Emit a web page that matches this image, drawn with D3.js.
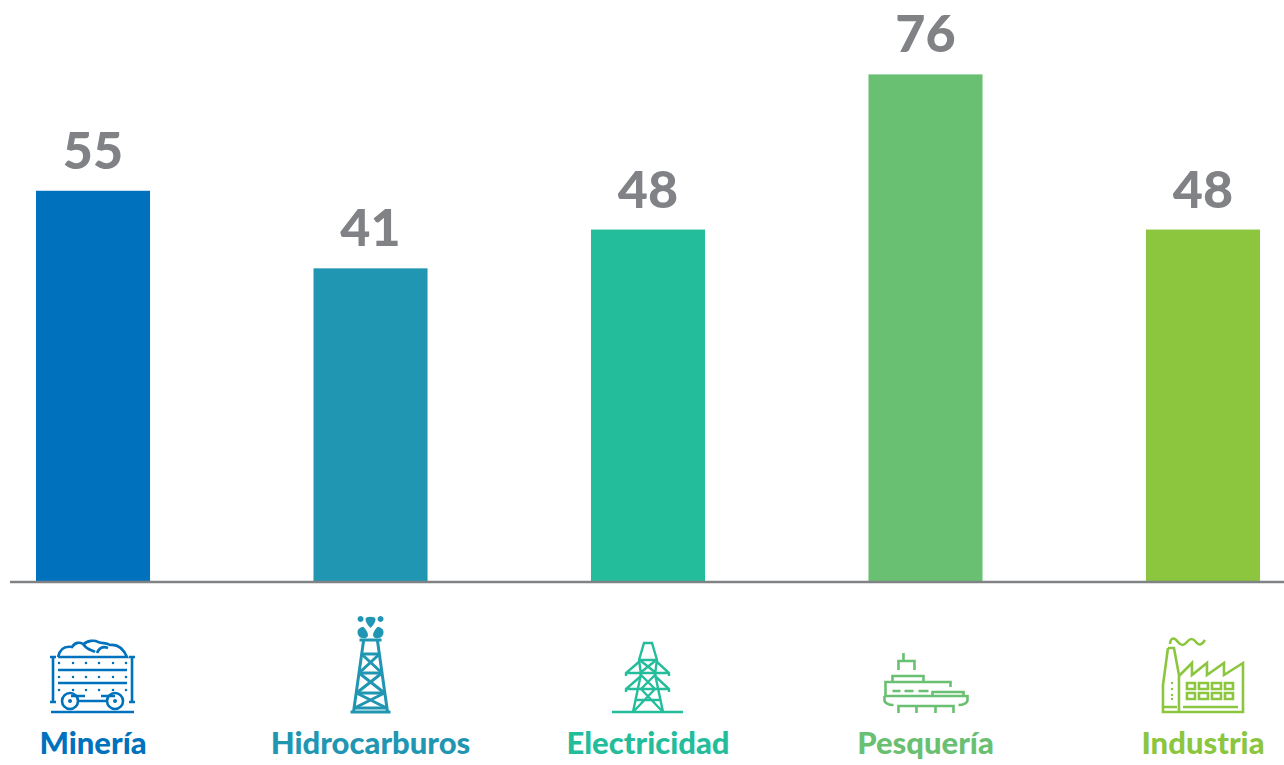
<!DOCTYPE html>
<html>
<head>
<meta charset="utf-8">
<script src="https://cdn.jsdelivr.net/npm/d3@7"></script>
<style>
  html, body { margin: 0; padding: 0; background: #fff; }
  svg { display: block; }
  text { font-family: Lato, "Open Sans", sans-serif; font-weight: 900; }
</style>
</head>
<body>
<div id="chart"></div>
<script>
// Data
const categories = ["Minería", "Hidrocarburos", "Electricidad", "Pesquería", "Industria"];
const values = [55, 41, 48, 76, 48];
const colors = ["#0071bc", "#2196b2", "#23bd9b", "#6ac072", "#8cc63f"];

// Icons, x is relative to the bar centre, y is page y
const dots = (xs, ys, r) =>
  ys.flatMap((y) => xs.map((x) => `M${x - r},${y}a${r},${r} 0 1,0 ${2 * r},0a${r},${r} 0 1,0 ${-2 * r},0`)).join("");

const icons = [
  {
    width: 2.6,
    lines: [
      "M-40,657V702M-43,657H-37M-43,702H-37M39,657V702M36,657H42M36,702H42",
      "M-35,670H34M-35,683H34M-22,696H-8M-15,701H14M8,696H22",
      "M-42,712H41",
      "M-35,657C-33,648 -27,646 -21,647C-18,642 -13,642 -10,644C-6,650 -1,650 2,652M-10,645C-6,640 2,640 5,642C10,644 13,642 17,645C24,644 30,648 34,657H-35M4,653C6,648 10,646 15,648",
      "M-31,701a8,8 0 1,0 16,0a8,8 0 1,0 -16,0M14,701a8,8 0 1,0 16,0a8,8 0 1,0 -16,0",
    ],
    fills: [dots([-34, -20, -7, 6, 20, 33], [663, 677, 690], 1.3), dots([-23, 22], [701], 2)],
  },
  {
    width: 3,
    lines: [
      "M-11,640H11M-7,641L-17,712M7,641L17,712M-20,712H20",
      "M-9,654H9M-11.5,673H11.5M-14,693H14M-16,708H16",
      "M-9,654L11.5,673M9,654L-11.5,673M-11.5,673L14,693M11.5,673L-14,693M-14,693L16,708M14,693L-16,708",
    ],
    fills: [
      "M-10,616a3,3 0 1,0 0.1,0Z",
      "M0,628C-4,624 -5,621 -5,619C-5,616 5,616 5,619C5,621 4,624 0,628Z",
      "M10,616a3,3 0 1,0 0.1,0Z",
      "M-7,627C-2,632 -1,637 -5,638C-10,639 -13,636 -13,632C-13,629 -10,627 -7,627Z",
      "M7,627C2,632 1,637 5,638C10,639 13,636 13,632C13,629 10,627 7,627Z",
    ],
  },
  {
    width: 2.4,
    lines: [
      "M-36,712H35",
      "M-15,712L-7,674L-9,660L-4,643H4L9,660L7,674L15,712",
      "M-9,660H9M-22,673H21M-22,689H21M-22,676V673L-8,661M21,676V673L8,661M-22,692V689L-7,676M21,692V689L7,676",
      "M-7,661L8,673M7,661L-8,673M-8,674L7,689M8,674L-7,689M-7,689L15,712M7,689L-15,712M-13,700H13",
    ],
    fills: [],
  },
  {
    width: 2.6,
    lines: [
      "M-22,653V660M-27,670V661H-11V670",
      "M-33,682V676H-2V682M-40,696V682H25V687",
      "M-33,691H-25M-21,691H-12M-7,691H3",
      "M7,696V692H38V696",
      "M-41,696H42V700C42,703 38,705 33,705M-41,696V700C-41,703 -37,705 -32,705",
      "M-27,713V706H28V713M-9,706V713M10,706V713",
    ],
    fills: [],
  },
  {
    width: 2.6,
    lines: [
      "M-33,644C-32,636 -28,638 -25,642C-22,646 -19,646 -16,642C-13,638 -10,638 -7,642C-4,646 -1,645 2,640",
      "M-35,648H-29L-24,675V712M-35,648L-40,685V712H40V663L21,675V663L4,675V663L-11,675V663L-24,676",
      "M-20,707H35M-39,707H-26",
      "M-16,683h8v6h-8zM-4,683h9v6h-9zM9,683h9v6h-9zM22,683h8v6h-8zM-16,693h8v6h-8zM-4,693h9v6h-9zM9,693h9v6h-9zM22,693h8v6h-8z",
    ],
    fills: [dots([-31], [683, 689, 695, 699], 1.2)],
  },
];

// Dimensions
const dimensions = {
  width: 1284,
  height: 765,
  baseline: 582,
  barTop: 74.4,
};

// Draw Image
const svg = d3
  .select("#chart")
  .append("svg")
  .attr("width", dimensions.width)
  .attr("height", dimensions.height);

// Scales
const xScale = d3
  .scaleBand()
  .domain(categories)
  .range([36, 1260])
  .paddingInner(0.589)
  .paddingOuter(0);

// The bars do not start at zero in the original, the fit gives about -15.6 at the axis
const yScale = d3
  .scaleLinear()
  .domain([-15.6, d3.max(values)])
  .range([dimensions.baseline, dimensions.barTop]);

// Bars
svg
  .append("g")
  .selectAll("rect")
  .data(values)
  .join("rect")
  .attr("x", (d, i) => xScale(categories[i]))
  .attr("y", (d) => yScale(d))
  .attr("width", xScale.bandwidth())
  .attr("height", (d) => dimensions.baseline - yScale(d))
  .attr("fill", (d, i) => colors[i]);

// Value labels
svg
  .append("g")
  .selectAll("text")
  .data(values)
  .join("text")
  .attr("x", (d, i) => xScale(categories[i]) + xScale.bandwidth() / 2)
  .attr("y", (d) => yScale(d) - 22)
  .attr("text-anchor", "middle")
  .attr("font-size", 52)
  .attr("fill", "#808285")
  .text((d) => d);

// Axis
const xAxis = d3.axisBottom(xScale).tickSize(0).tickPadding(150);

const axisGroup = svg
  .append("g")
  .attr("transform", `translate(0, ${dimensions.baseline})`)
  .call(xAxis);

axisGroup.select(".domain").remove();
axisGroup
  .selectAll(".tick text")
  .attr("font-size", 31)
  .style("font-family", "Lato")
  .style("font-weight", 900)
  .attr("fill", (d, i) => colors[i]);

axisGroup
  .append("line")
  .attr("x1", 10)
  .attr("x2", dimensions.width)
  .attr("stroke", "#808285")
  .attr("stroke-width", 2.5);

// Icons
const iconGroups = svg
  .append("g")
  .selectAll("g")
  .data(icons)
  .join("g")
  .attr("transform", (d, i) => `translate(${xScale(categories[i]) + xScale.bandwidth() / 2}, 0)`)
  .attr("color", (d, i) => colors[i]);

iconGroups
  .selectAll("path.line")
  .data((d) => d.lines.map((l) => ({ l, width: d.width })))
  .join("path")
  .attr("class", "line")
  .attr("d", (d) => d.l)
  .attr("fill", "none")
  .attr("stroke", "currentColor")
  .attr("stroke-width", (d) => d.width);

iconGroups
  .selectAll("path.fill")
  .data((d) => d.fills)
  .join("path")
  .attr("class", "fill")
  .attr("d", (d) => d)
  .attr("fill", "currentColor");
</script>
</body>
</html>
